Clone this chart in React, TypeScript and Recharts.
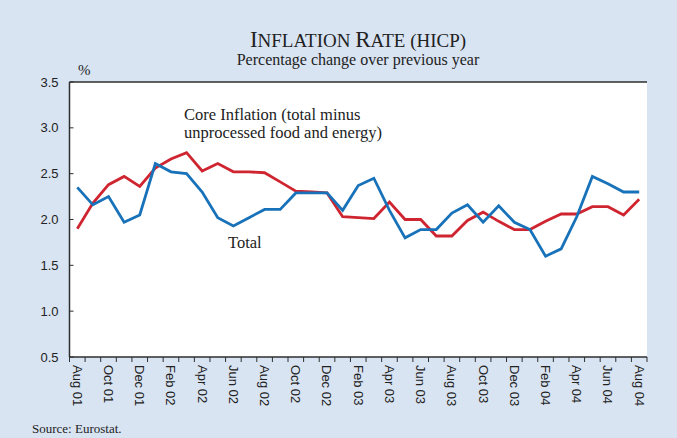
import React from 'react';
import { LineChart, Line, XAxis, YAxis } from 'recharts';

const months = [
  'Aug 01', 'Sep 01', 'Oct 01', 'Nov 01', 'Dec 01',
  'Jan 02', 'Feb 02', 'Mar 02', 'Apr 02', 'May 02', 'Jun 02', 'Jul 02', 'Aug 02', 'Sep 02', 'Oct 02', 'Nov 02', 'Dec 02',
  'Jan 03', 'Feb 03', 'Mar 03', 'Apr 03', 'May 03', 'Jun 03', 'Jul 03', 'Aug 03', 'Sep 03', 'Oct 03', 'Nov 03', 'Dec 03',
  'Jan 04', 'Feb 04', 'Mar 04', 'Apr 04', 'May 04', 'Jun 04', 'Jul 04', 'Aug 04',
];

const total = [
  2.35, 2.16, 2.25, 1.97, 2.05,
  2.61, 2.52, 2.50, 2.30, 2.02, 1.93, 2.02, 2.11, 2.11, 2.29, 2.29, 2.29,
  2.10, 2.37, 2.45, 2.10, 1.80, 1.89, 1.89, 2.07, 2.16, 1.97, 2.15, 1.97,
  1.89, 1.60, 1.68, 2.03, 2.47, 2.39, 2.30, 2.30,
];

const core = [
  1.90, 2.18, 2.38, 2.47, 2.36,
  2.56, 2.66, 2.73, 2.53, 2.61, 2.52, 2.52, 2.51, 2.41, 2.31, 2.30, 2.29,
  2.03, 2.02, 2.01, 2.19, 2.00, 2.00, 1.82, 1.82, 1.99, 2.08, 1.98, 1.89,
  1.89, 1.98, 2.06, 2.06, 2.14, 2.14, 2.05, 2.22,
];

const yTicks = [0.5, 1.0, 1.5, 2.0, 2.5, 3.0, 3.5];
const yDomain = [0.5, 3.5];

const data = months.map((m, i) => ({ i, m, total: total[i], core: core[i] }));

const xDomain = [-0.5, months.length - 0.5];
const xTicks: number[] = [];
for (let k = 0; k <= months.length; k++) {
  xTicks.push(k - 0.5);
  if (k < months.length && k % 2 === 0) xTicks.push(k);
}

const SERIF = '"Liberation Serif", "Times New Roman", serif';
const SANS = '"Liberation Sans", Arial, sans-serif';
const FRAME = '#2e2e2e';
const BG = '#d9e4f2';

// layout constants
const W = 677;
const H = 438;
const TOP = 82;
const RIGHT = 30;
const Y_AXIS_W = 69.5;
const X_AXIS_H = 81;
const PLOT_W = W - Y_AXIS_W - RIGHT;
const PLOT_H = H - TOP - X_AXIS_H;

const XTick = (props: any) => {
  const { x, y, payload } = props;
  const v = payload.value;
  if (Math.abs(v % 1) > 0.01) {
    return <line x1={x} x2={x} y1={y} y2={y + 5} stroke={FRAME} strokeWidth={1} />;
  }
  if (v % 2 === 0) {
    return (
      <text
        transform={`translate(${x},${y + 8}) rotate(90)`}
        dy="0.35em"
        textAnchor="start"
        fontFamily={SANS}
        fontSize={13}
        fill="#222"
      >
        {months[v]}
      </text>
    );
  }
  return <g />;
};

export default function App() {
  return (
    <div style={{ position: 'fixed', left: 0, top: 0, width: W, height: H }}>
      <svg
        width={W}
        height={H}
        style={{ position: 'absolute', left: 0, top: 0, zIndex: 0 }}
      >
        <rect x={0} y={0} width={W} height={H} fill={BG} />
        <rect x={Y_AXIS_W} y={TOP} width={PLOT_W} height={PLOT_H} fill="#ffffff" />
      </svg>
      <div style={{ position: 'absolute', left: 0, top: 0, zIndex: 1 }}>
        <LineChart
          width={W}
          height={H}
          data={data}
          margin={{ top: TOP, right: RIGHT, bottom: 0, left: 0 }}
        >
          <XAxis
            xAxisId="b"
            dataKey="i"
            type="number"
            domain={xDomain}
            ticks={xTicks}
            interval={0}
            height={X_AXIS_H}
            tickSize={0}
            tickMargin={0}
            tickLine={false}
            tick={<XTick />}
            axisLine={{ stroke: FRAME, strokeWidth: 1.5 }}
          />
          <YAxis
            yAxisId="y"
            domain={yDomain}
            ticks={yTicks}
            interval={0}
            width={Y_AXIS_W}
            tickSize={-4}
            tickMargin={15}
            tickFormatter={(v: number) => v.toFixed(1)}
            tick={{ fontFamily: SANS, fontSize: 13, fill: '#222' }}
            tickLine={{ stroke: FRAME }}
            axisLine={{ stroke: FRAME, strokeWidth: 1.5 }}
          />
          <YAxis
            yAxisId="r"
            orientation="right"
            domain={yDomain}
            ticks={yTicks}
            interval={0}
            width={0}
            tickSize={-4}
            tick={false}
            tickLine={{ stroke: FRAME }}
            axisLine={{ stroke: FRAME, strokeWidth: 1.5 }}
          />
          <Line
            xAxisId="b"
            yAxisId="y"
            dataKey="core"
            stroke="#cf2530"
            strokeWidth={2.8}
            dot={false}
            isAnimationActive={false}
          />
          <Line
            xAxisId="b"
            yAxisId="y"
            dataKey="total"
            stroke="#1872b9"
            strokeWidth={2.8}
            dot={false}
            isAnimationActive={false}
          />
        </LineChart>
      </div>
      <svg
        width={W}
        height={H}
        style={{ position: 'absolute', left: 0, top: 0, zIndex: 2, pointerEvents: 'none' }}
      >
        <line x1={Y_AXIS_W} x2={Y_AXIS_W + PLOT_W} y1={TOP} y2={TOP} stroke={FRAME} strokeWidth={1.5} />
        <text x={358} y={47} textAnchor="middle" fontFamily={SERIF} fill="#222">
          <tspan fontSize={23}>I</tspan>
          <tspan fontSize={19}>NFLATION </tspan>
          <tspan fontSize={23}>R</tspan>
          <tspan fontSize={19}>ATE (HICP)</tspan>
        </text>
        <text x={358} y={65} textAnchor="middle" fontFamily={SERIF} fontSize={16} fill="#222">
          Percentage change over previous year
        </text>
        <text x={78} y={75} fontFamily={SERIF} fontSize={15} fill="#222">%</text>
        <text x={184} y={120} fontFamily={SERIF} fontSize={16.5} fill="#222">Core Inflation (total minus</text>
        <text x={184} y={138} fontFamily={SERIF} fontSize={16.5} fill="#222">unprocessed food and energy)</text>
        <text x={228} y={248} fontFamily={SERIF} fontSize={16.5} fill="#222">Total</text>
        <text x={32} y={433} fontFamily={SERIF} fontSize={13} fill="#222">Source: Eurostat.</text>
      </svg>
    </div>
  );
}
